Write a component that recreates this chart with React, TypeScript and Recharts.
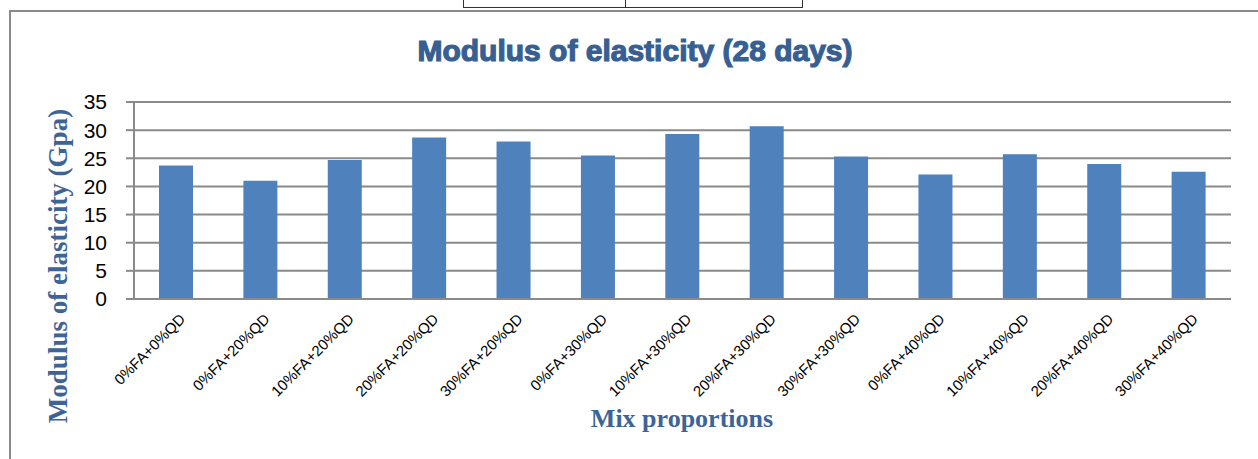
import React from 'react';
import { BarChart, Bar, XAxis, YAxis, CartesianGrid, Label } from 'recharts';

const mixes = [
  '0%FA+0%QD', '0%FA+20%QD', '10%FA+20%QD', '20%FA+20%QD', '30%FA+20%QD',
  '0%FA+30%QD', '10%FA+30%QD', '20%FA+30%QD', '30%FA+30%QD',
  '0%FA+40%QD', '10%FA+40%QD', '20%FA+40%QD', '30%FA+40%QD',
];
const modulus = [23.7, 21.0, 24.7, 28.7, 28.0, 25.5, 29.3, 30.7, 25.3, 22.1, 25.7, 24.0, 22.6];
const yTicks = [0, 5, 10, 15, 20, 25, 30, 35];

const data = mixes.map((mix, i) => ({ mix, modulus: modulus[i] }));

const GRID = '#8a8a8a';
const SERIF = '"Liberation Serif", "DejaVu Serif", serif';
const SANS = '"Liberation Sans", Arial, sans-serif';

const XTick = ({ x, y, payload }: any) => (
  <g transform={`translate(${x + 10},${y + 21})`}>
    <text textAnchor="end" transform="rotate(-45)" fontSize={15} fontFamily={SANS} fill="#000">
      {payload.value}
    </text>
  </g>
);

const App = () => {
  return (
    <div style={{ position: 'absolute', left: 0, top: 0, width: 1258, height: 459, overflow: 'hidden', background: '#fff' }}>
      {/* bits of the page around the chart */}
      <div style={{ position: 'absolute', left: 463, top: -2, width: 338, height: 8, border: '1px solid #333' }} />
      <div style={{ position: 'absolute', left: 625, top: 0, width: 1, height: 8, background: '#333' }} />
      <div style={{ position: 'absolute', left: 9, top: 10, width: 1260, height: 460, borderLeft: '2px solid #8a8a8a', borderTop: '2px solid #8a8a8a' }} />

      <div style={{ position: 'absolute', left: 0, top: 0 }}>
        <BarChart width={1258} height={459} data={data} margin={{ top: 102, right: 27, left: 0, bottom: 0 }}>
          <CartesianGrid vertical={false} stroke={GRID} strokeWidth={2} />
          <XAxis
            dataKey="mix"
            interval={0}
            height={160}
            tickSize={0}
            tickMargin={0}
            tick={<XTick />}
            axisLine={{ stroke: GRID, strokeWidth: 2 }}
            tickLine={false}
          >
            <Label
              content={() => (
                <text x={682} y={427} textAnchor="middle" fontFamily={SERIF} fontWeight="bold" fontSize={26} fill="#3e6496">
                  Mix proportions
                </text>
              )}
            />
          </XAxis>
          <YAxis
            width={134}
            domain={[0, 35]}
            ticks={yTicks}
            interval={0}
            tickSize={8}
            tickMargin={19}
            tick={{ fontSize: 21, fontFamily: SANS, fill: '#000' }}
            axisLine={{ stroke: GRID, strokeWidth: 2 }}
            tickLine={{ stroke: GRID, strokeWidth: 2 }}
          >
            <Label
              content={() => (
                <g>
                  <text
                    x={67}
                    y={266}
                    transform="rotate(-90, 67, 266)"
                    textAnchor="middle"
                    fontFamily={SERIF}
                    fontWeight="bold"
                    fontSize={27}
                    fill="#3e6496"
                  >
                    Modulus of elasticity (Gpa)
                  </text>
                  <text
                    x={635}
                    y={61}
                    textAnchor="middle"
                    fontFamily={SANS}
                    fontWeight="bold"
                    fontSize={30}
                    fill="#375f92"
                    stroke="#375f92"
                    strokeWidth={1.2}
                  >
                    Modulus of elasticity (28 days)
                  </text>
                </g>
              )}
            />
          </YAxis>
          <Bar dataKey="modulus" fill="#4f81bd" barSize={34} isAnimationActive={false} />
        </BarChart>
      </div>
    </div>
  );
};

export default App;
